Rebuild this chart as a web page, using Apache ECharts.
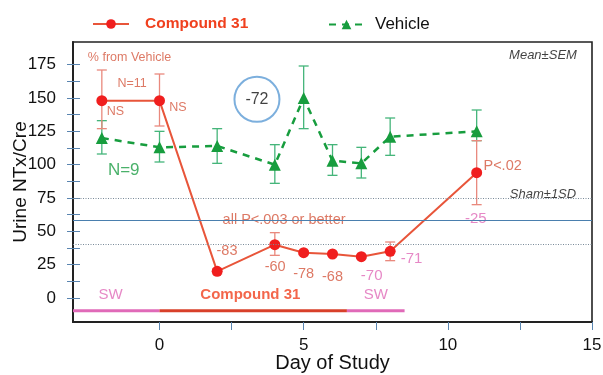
<!DOCTYPE html>
<html>
<head>
<meta charset="utf-8">
<script src="https://cdn.jsdelivr.net/npm/echarts@6/dist/echarts.min.js"></script>
<style>
html,body{margin:0;padding:0;background:#fff;}
#chart{width:603px;height:375px;}
</style>
</head>
<body>
<div id="chart"></div>
<script>
// ---- data ----
var days = [-2, 0, 2, 4, 5, 6, 7, 8, 11];
var compoundMean = [148, 148, 20, 40, 34, 33, 31, 35, 94];
var compoundLow  = [127, 129, 18, 32, 33, 32, 30, 28, 70];
var compoundHigh = [171, 168, 22, 49, 35, 34, 32, 42, 118];
var vehicleMean  = [120, 113, 114, 100, 150, 103, 101, 121, 125];
var vehicleLow   = [108, 102, 101, 86, 127, 92, 90, 107, 118];
var vehicleHigh  = [133, 125, 127, 115, 174, 115, 113, 135, 141];
var xLabels = [0, 5, 10, 15];
var xTicks = [0, 2.5, 5, 7.5, 10, 12.5, 15];
var yLabels = [0, 25, 50, 75, 100, 125, 150, 175];
var yTicks = [0, 12.5, 25, 37.5, 50, 62.5, 75, 87.5, 100, 112.5, 125, 137.5, 150, 162.5, 175];
var shamLines = [75, 40];
var shamMean = [58];
var periods = [[-3, 0], [0, 6.5], [6.5, 8.5]];
var periodNames = ['SW', 'Compound 31', 'SW'];
var circleNote = {day: 3.38, value: 149, text: '-72'};
// annotations: text placed at (day, value)
var annotations = [
  ['% from Vehicle', -1.04, 180, 'brownSmall'],
  ['N=11', -0.95, 161, 'brownSmall'],
  ['NS', -1.53, 140, 'brownSmall'],
  ['NS', 0.64, 142.5, 'brownSmall'],
  ['N=9', -1.24, 96, 'green'],
  ['Mean±SEM', 13.3, 182, 'italic'],
  ['Sham±1SD', 13.3, 78, 'italic'],
  ['all P<.003 or better', 4.32, 58.5, 'brown'],
  ['-83', 2.34, 35, 'brown'],
  ['-60', 4.01, 23.5, 'brown'],
  ['-78', 5.0, 18.3, 'brown'],
  ['-68', 6.0, 15.8, 'brown'],
  ['-70', 7.36, 16.7, 'pink'],
  ['-71', 8.74, 29.5, 'pink'],
  ['-25', 10.97, 59.3, 'pink'],
  ['P<.02', 11.9, 98.7, 'brown'],
  ['SW', -1.7, 2.5, 'pinkBig'],
  ['Compound 31', 3.15, 2.5, 'redBold'],
  ['SW', 7.5, 2.5, 'pinkBig']
];
var periodLevel = -9.5;

// ---- styles ----
var FONT = '"Liberation Sans", Arial, sans-serif';
var RED_LINE = '#e8553a', RED_DOT = '#f01e1e', RED_ERR = '#e9897d';
var GREEN = '#179d3e', GREEN_ERR = '#45b57a';
var BROWN = '#d4583e', PINK = '#e06ab8';
var annStyles = {
  brownSmall: {color: BROWN, fontSize: 12.5},
  brown: {color: BROWN, fontSize: 14.5},
  green: {color: '#1d9e45', fontSize: 17},
  italic: {color: '#111', fontSize: 13, fontStyle: 'italic'},
  pink: {color: PINK, fontSize: 15},
  pinkBig: {color: PINK, fontSize: 15},
  redBold: {color: '#f0401e', fontSize: 15, fontWeight: 'bold'}
};
var periodColors = [PINK, '#d8402a', PINK];

function zip3(a, b, c) { return a.map(function (v, i) { return [v, b[i], c[i]]; }); }
function zip2(a, b) { return a.map(function (v, i) { return [v, b[i]]; }); }

function errRender(color) {
  return function (params, api) {
    var x = api.value(0), lo = api.value(1), hi = api.value(2);
    var p1 = api.coord([x, lo]), p2 = api.coord([x, hi]);
    var w = 5;
    var st = {stroke: color, lineWidth: 1.3};
    return {type: 'group', children: [
      {type: 'line', shape: {x1: p1[0], y1: p1[1], x2: p2[0], y2: p2[1]}, style: st},
      {type: 'line', shape: {x1: p1[0] - w, y1: p1[1], x2: p1[0] + w, y2: p1[1]}, style: st},
      {type: 'line', shape: {x1: p2[0] - w, y1: p2[1], x2: p2[0] + w, y2: p2[1]}, style: st}
    ]};
  };
}

var chart = echarts.init(document.getElementById('chart'), null, {renderer: 'canvas'});

var annData = annotations.map(function (a) {
  var s = annStyles[a[3]];
  return {
    value: [a[1], a[2]],
    label: Object.assign({show: true, formatter: a[0], position: 'inside', fontFamily: FONT}, s)
  };
});

var option = {
  animation: false,
  textStyle: {fontFamily: FONT},
  grid: {left: 73, right: 11, top: 42, bottom: 53, containLabel: false, outerBoundsMode: 'none',
         show: true, borderColor: '#222', borderWidth: 1.6, backgroundColor: 'rgba(0,0,0,0)'},
  legend: [
    {data: [{name: 'Compound 31', textStyle: {color: '#f0401e', fontWeight: 'bold', fontSize: 15.5, fontFamily: FONT, padding: [0, 0, 0, 11]}}],
     left: 87, top: 11, itemWidth: 36, itemHeight: 12, itemGap: 10},
    {data: [{name: 'Vehicle', textStyle: {color: '#111', fontSize: 17, fontFamily: FONT, padding: [0, 0, 0, 6]}}],
     left: 323, top: 11, itemWidth: 35, itemHeight: 12}
  ],
  xAxis: {
    type: 'value', min: -3, max: 15,
    axisLine: {show: true, onZero: false, lineStyle: {color: '#222', width: 2}},
    axisTick: {show: true, customValues: xTicks, length: 8, lineStyle: {color: '#5a85b0', width: 1}},
    axisLabel: {customValues: xLabels, fontSize: 17, color: '#111', margin: 15, fontFamily: FONT},
    splitLine: {show: false},
    name: 'Day of Study', nameLocation: 'middle', nameGap: 31, nameMoveOverlap: false,
    nameTextStyle: {fontSize: 20, color: '#111', fontFamily: FONT}
  },
  yAxis: [{
    type: 'value', min: -18, max: 192,
    axisLine: {show: true, onZero: false, lineStyle: {color: '#222', width: 2}},
    axisTick: {show: true, customValues: yTicks, length: 6, lineStyle: {color: '#5a85b0', width: 1}},
    axisLabel: {customValues: yLabels, fontSize: 17, color: '#111', margin: 17, fontFamily: FONT},
    splitLine: {show: false},
    name: 'Urine NTx/Cre', nameLocation: 'middle', nameGap: 43, nameMoveOverlap: false,
    nameTextStyle: {fontSize: 19, color: '#111', fontFamily: FONT}
  }, {
    type: 'value', min: -18, max: 192, position: 'left',
    axisLine: {show: false, onZero: false},
    axisTick: {show: true, inside: true, customValues: yTicks, length: 7, lineStyle: {color: '#5a85b0', width: 1}},
    axisLabel: {show: false},
    splitLine: {show: false}
  }],
  series: [
    {
      name: 'refLines', type: 'line', data: [], silent: true,
      markLine: {
        silent: true, symbol: 'none', label: {show: false},
        data: shamLines.map(function (v) { return {yAxis: v, lineStyle: {color: '#7a8a99', type: [1, 1.5], width: 1}}; })
          .concat(shamMean.map(function (v) { return {yAxis: v, lineStyle: {color: '#4a7fae', type: 'solid', width: 1.2}}; }))
      }
    },
    {
      name: 'periods', type: 'custom', silent: true,
      data: periods,
      renderItem: function (params, api) {
        var p1 = api.coord([api.value(0), periodLevel]);
        var p2 = api.coord([api.value(1), periodLevel]);
        return {type: 'line', shape: {x1: p1[0], y1: p1[1], x2: p2[0], y2: p2[1]},
          style: {stroke: periodColors[params.dataIndex], lineWidth: 3}};
      },
      encode: {x: [0, 1]}
    },
    {
      name: 'vehErr', type: 'custom', silent: true,
      data: zip3(days, vehicleLow, vehicleHigh),
      renderItem: errRender(GREEN_ERR), encode: {x: 0, y: [1, 2]}
    },
    {
      name: 'cmpErr', type: 'custom', silent: true,
      data: zip3(days, compoundLow, compoundHigh),
      renderItem: errRender(RED_ERR), encode: {x: 0, y: [1, 2]}
    },
    {
      name: 'Vehicle', type: 'line', data: zip2(days, vehicleMean),
      symbol: 'triangle', symbolSize: 12,
      lineStyle: {color: GREEN, width: 2.5, type: [7, 6]},
      itemStyle: {color: GREEN}
    },
    {
      name: 'Compound 31', type: 'line', data: zip2(days, compoundMean),
      symbol: 'circle', symbolSize: 11,
      lineStyle: {color: RED_LINE, width: 2},
      itemStyle: {color: RED_DOT}
    },
    {
      name: 'circleNote', type: 'scatter', silent: true,
      data: [[circleNote.day, circleNote.value]],
      symbol: 'circle', symbolSize: 45,
      itemStyle: {color: 'rgba(0,0,0,0)', borderColor: '#5b9bd5', borderWidth: 2},
      label: {show: true, position: 'inside', formatter: circleNote.text, fontSize: 16, color: '#111', fontFamily: FONT}
    },
    {
      name: 'notes', type: 'scatter', silent: true,
      data: annData, symbolSize: 1,
      itemStyle: {color: 'rgba(0,0,0,0)'}
    }
  ]
};
chart.setOption(option);
</script>
</body>
</html>
